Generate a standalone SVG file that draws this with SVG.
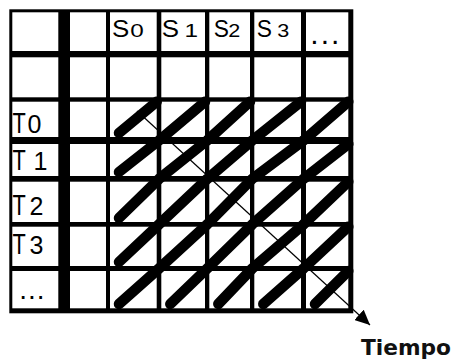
<svg xmlns="http://www.w3.org/2000/svg" width="455" height="361" viewBox="0 0 455 361">
<defs>
<style>
.cell{fill:#fff}
.stripe{fill:none;stroke:#000;stroke-width:10.5;stroke-linecap:round;stroke-linejoin:round}
.lbl{font-family:"Liberation Sans",Arial,Helvetica,sans-serif;fill:#000}
.thin{stroke:#000;stroke-width:1.2;fill:none}
</style>
<marker id="ah" markerUnits="userSpaceOnUse" markerWidth="16" markerHeight="14" refX="15" refY="7" orient="auto">
<path d="M0,0 L15,7 L0,14 z" fill="#000"/>
</marker>
</defs>
<rect x="0" y="0" width="455" height="361" fill="#fff"/>
<g id="table">
<rect x="9.3" y="9.3" width="344" height="304" fill="#000"/>
<g id="row-head">
<rect class="cell" x="12.3" y="12.3" width="46" height="38.7"/>
<rect class="cell" x="70" y="12.3" width="36" height="38.7"/>
<rect class="cell" x="110" y="12.3" width="46.7" height="38.7"/>
<rect class="cell" x="161.3" y="12.3" width="43.7" height="38.7"/>
<rect class="cell" x="209.3" y="12.3" width="40.7" height="38.7"/>
<rect class="cell" x="254.3" y="12.3" width="46.7" height="38.7"/>
<rect class="cell" x="306" y="12.3" width="42.3" height="38.7"/>
</g>
<g id="row-empty">
<rect class="cell" x="12.3" y="57.3" width="46" height="40"/>
<rect class="cell" x="70" y="57.3" width="36" height="40"/>
<rect class="cell" x="110" y="57.3" width="46.7" height="40"/>
<rect class="cell" x="161.3" y="57.3" width="43.7" height="40"/>
<rect class="cell" x="209.3" y="57.3" width="40.7" height="40"/>
<rect class="cell" x="254.3" y="57.3" width="46.7" height="40"/>
<rect class="cell" x="306" y="57.3" width="42.3" height="40"/>
</g>
<g id="row-T0">
<rect class="cell" x="12.3" y="101.7" width="46" height="35.3"/>
<rect class="cell" x="70" y="101.7" width="36" height="35.3"/>
<rect class="cell" x="110" y="101.7" width="46.7" height="35.3"/>
<rect class="cell" x="161.3" y="101.7" width="43.7" height="35.3"/>
<rect class="cell" x="209.3" y="101.7" width="40.7" height="35.3"/>
<rect class="cell" x="254.3" y="101.7" width="46.7" height="35.3"/>
<rect class="cell" x="306" y="101.7" width="42.3" height="35.3"/>
</g>
<g id="row-T1">
<rect class="cell" x="12.3" y="144" width="46" height="32"/>
<rect class="cell" x="70" y="144" width="36" height="32"/>
<rect class="cell" x="110" y="144" width="46.7" height="32"/>
<rect class="cell" x="161.3" y="144" width="43.7" height="32"/>
<rect class="cell" x="209.3" y="144" width="40.7" height="32"/>
<rect class="cell" x="254.3" y="144" width="46.7" height="32"/>
<rect class="cell" x="306" y="144" width="42.3" height="32"/>
</g>
<g id="row-T2">
<rect class="cell" x="12.3" y="181.7" width="46" height="40.3"/>
<rect class="cell" x="70" y="181.7" width="36" height="40.3"/>
<rect class="cell" x="110" y="181.7" width="46.7" height="40.3"/>
<rect class="cell" x="161.3" y="181.7" width="43.7" height="40.3"/>
<rect class="cell" x="209.3" y="181.7" width="40.7" height="40.3"/>
<rect class="cell" x="254.3" y="181.7" width="46.7" height="40.3"/>
<rect class="cell" x="306" y="181.7" width="42.3" height="40.3"/>
</g>
<g id="row-T3">
<rect class="cell" x="12.3" y="226.7" width="46" height="39.3"/>
<rect class="cell" x="70" y="226.7" width="36" height="39.3"/>
<rect class="cell" x="110" y="226.7" width="46.7" height="39.3"/>
<rect class="cell" x="161.3" y="226.7" width="43.7" height="39.3"/>
<rect class="cell" x="209.3" y="226.7" width="40.7" height="39.3"/>
<rect class="cell" x="254.3" y="226.7" width="46.7" height="39.3"/>
<rect class="cell" x="306" y="226.7" width="42.3" height="39.3"/>
</g>
<g id="row-more">
<rect class="cell" x="12.3" y="271" width="46" height="37.3"/>
<rect class="cell" x="70" y="271" width="36" height="37.3"/>
<rect class="cell" x="110" y="271" width="46.7" height="37.3"/>
<rect class="cell" x="161.3" y="271" width="43.7" height="37.3"/>
<rect class="cell" x="209.3" y="271" width="40.7" height="37.3"/>
<rect class="cell" x="254.3" y="271" width="46.7" height="37.3"/>
<rect class="cell" x="306" y="271" width="42.3" height="37.3"/>
</g>
</g>
<g id="connectors">
<line class="thin" x1="137" y1="111" x2="370" y2="325" marker-end="url(#ah)"/>
</g>
<g id="stripes">
<polyline class="stripe" points="119,133 156.7,101.7"/>
<polyline class="stripe" points="119,172 159,140.5 205,101.7"/>
<polyline class="stripe" points="119,218 159,178.9 207.2,140.5 250,101.7"/>
<polyline class="stripe" points="119,262 159,224.4 207.2,178.9 252.2,140.5 301,101.7"/>
<polyline class="stripe" points="119,304 159,268.5 207.2,224.4 252.2,178.9 303.5,140.5 348.3,101.7"/>
<polyline class="stripe" points="170.3,304 207.2,268.5 252.2,224.4 303.5,178.9 348.3,144"/>
<polyline class="stripe" points="218.3,304 252.2,268.5 303.5,224.4 348.3,181.7"/>
<polyline class="stripe" points="263.3,304 303.5,268.5 348.3,226.7"/>
<polyline class="stripe" points="315,304 348.3,271"/>
</g>
<g id="labels">
<g id="lbl-S0" class="lbl">
<text transform="translate(112,37.3) scale(1.08,1)" font-size="24">S</text>
<text transform="translate(130.3,37.3) scale(1.35,1)" font-size="18">0</text>
</g>
<g id="lbl-S1" class="lbl">
<text transform="translate(161.8,37.3) scale(1.08,1)" font-size="24">S</text>
<text transform="translate(184.5,37.3) scale(1.35,1)" font-size="18">1</text>
</g>
<g id="lbl-S2" class="lbl">
<text transform="translate(213.8,37.3) scale(0.95,1)" font-size="24">S</text>
<text transform="translate(228.3,37.3) scale(1.2,1)" font-size="18">2</text>
</g>
<g id="lbl-S3" class="lbl">
<text transform="translate(256.8,37.3) scale(0.95,1)" font-size="24">S</text>
<text transform="translate(277.2,37.3) scale(1.2,1)" font-size="18">3</text>
</g>
<text id="lbl-Smore" class="lbl" x="310.3" y="44" font-size="30" letter-spacing="2">...</text>
<g id="lbl-T0" class="lbl">
<text transform="translate(12.5,132.5) scale(0.75,1)" font-size="29">T</text>
<text x="27.5" y="132.5" font-size="25">0</text>
</g>
<g id="lbl-T1" class="lbl">
<text transform="translate(12.5,170) scale(0.75,1)" font-size="29">T</text>
<text x="33.5" y="170" font-size="25">1</text>
</g>
<g id="lbl-T2" class="lbl">
<text transform="translate(12.5,214.5) scale(0.75,1)" font-size="29">T</text>
<text x="29.5" y="214.5" font-size="25">2</text>
</g>
<g id="lbl-T3" class="lbl">
<text transform="translate(12.5,254) scale(0.75,1)" font-size="29">T</text>
<text x="29.5" y="254" font-size="25">3</text>
</g>
<text id="lbl-Tmore" class="lbl" x="19.2" y="299" font-size="28" letter-spacing="1">...</text>
<text id="lbl-tiempo" x="361" y="355" font-family="'DejaVu Sans',Verdana,sans-serif" font-weight="bold" font-size="21" textLength="90" lengthAdjust="spacingAndGlyphs" fill="#111">Tiempo</text>
</g>
</svg>
